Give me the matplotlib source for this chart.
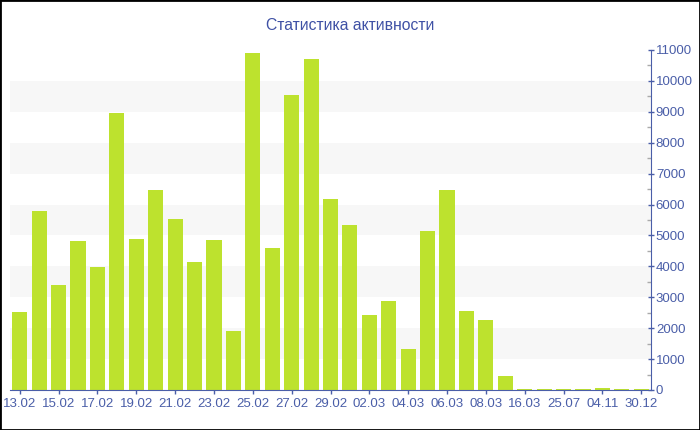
import matplotlib.pyplot as plt
from matplotlib.ticker import MultipleLocator

dates = [
    "13.02", "14.02", "15.02", "16.02", "17.02", "18.02", "19.02", "20.02",
    "21.02", "22.02", "23.02", "24.02", "25.02", "26.02", "27.02", "28.02",
    "29.02", "01.03", "02.03", "03.03", "04.03", "05.03", "06.03", "07.03",
    "08.03", "09.03", "16.03", "17.03", "25.07", "26.07", "04.11", "05.11",
    "30.12",
]
activity = [
    2530, 5780, 3400, 4830, 3980, 8950, 4880, 6480,
    5530, 4150, 4840, 1910, 10900, 4600, 9560, 10700,
    6180, 5350, 2420, 2870, 1340, 5130, 6480, 2570,
    2260, 460, 20, 20, 20, 20, 60, 20,
    20,
]

plt.rcParams["font.family"] = ["Liberation Sans", "DejaVu Sans"]

axis_color = "#4a5ea8"
bar_color = "#bde22e"

fig = plt.figure(figsize=(7, 4.3), dpi=100)
ax = fig.add_axes([10 / 700, 40 / 430, 641 / 700, 340 / 430])

# light horizontal bands
for lo in range(1000, 11000, 2000):
    ax.axhspan(lo, lo + 1000, color="#f7f7f7", zorder=0, lw=0)

x = range(len(activity))
ax.bar(x, activity, width=0.78, color=bar_color, zorder=2)

ax.set_xlim(-0.5, len(activity) - 0.5)
ax.set_ylim(0, 11000)

ax.yaxis.tick_right()
ax.yaxis.set_major_locator(MultipleLocator(1000))
ax.yaxis.set_minor_locator(MultipleLocator(500))
ax.tick_params(axis="y", which="major", length=5, width=1, color=axis_color,
               labelcolor=axis_color, labelsize=9.5, pad=1, direction="inout")
ax.tick_params(axis="y", which="minor", length=3, width=1, color="#aaaaaa",
               direction="in")

ax.set_xticks(list(x)[::2])
ax.set_xticklabels(dates[::2])
ax.tick_params(axis="x", length=3, width=1, color=axis_color,
               labelcolor=axis_color, labelsize=9.5, pad=3)

for side in ["top", "left"]:
    ax.spines[side].set_visible(False)
ax.spines["right"].set_color(axis_color)
ax.spines["bottom"].set_color(axis_color)

fig.text(0.5, 1 - 25 / 430, "Статистика активности", ha="center", va="center",
         color="#3f51a5", fontsize=11.3)

# frame around the whole picture
fig.patches.append(plt.Rectangle((0, 0), 1, 1, transform=fig.transFigure,
                                 fill=False, edgecolor="black", lw=2))

fig.savefig("out.png", dpi=100)
